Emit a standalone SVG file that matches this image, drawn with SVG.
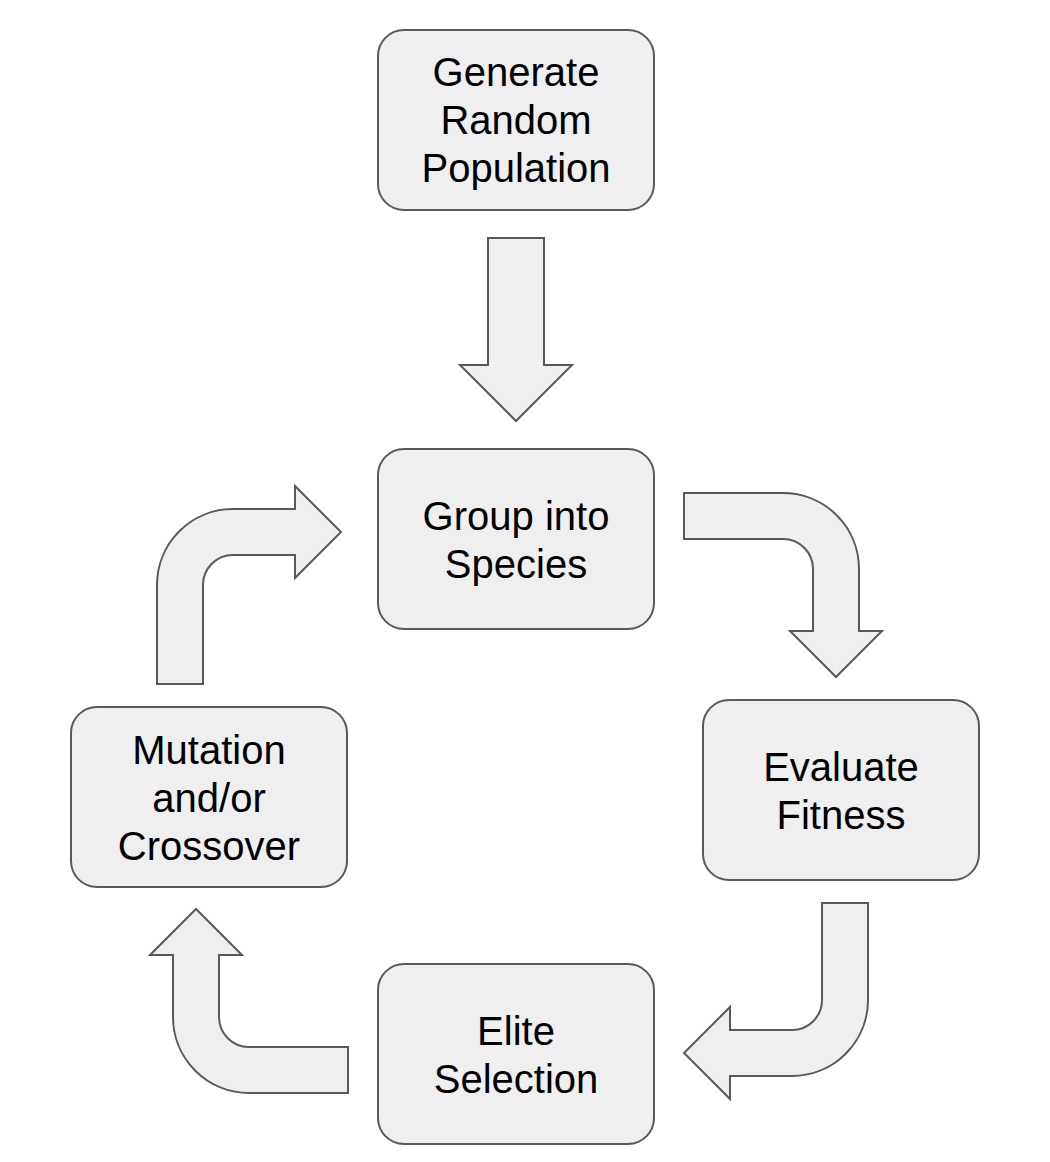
<svg xmlns="http://www.w3.org/2000/svg" width="1050" height="1162" viewBox="0 0 1050 1162">
<style>
.box{fill:#efefef;stroke:#595959;stroke-width:2}
.arr{fill:#efefef;stroke:#595959;stroke-width:2;stroke-linejoin:miter}
.t{font-family:"Liberation Sans",Arial,sans-serif;font-size:40px;fill:#000;text-anchor:middle}
</style>
<rect width="1050" height="1162" fill="#fff"/>
<g id="generate">
<rect class="box" x="378" y="30" width="276" height="180" rx="26"/>
<text class="t" x="516" y="86">Generate</text>
<text class="t" x="516" y="134">Random</text>
<text class="t" x="516" y="182">Population</text>
</g>
<g id="group">
<rect class="box" x="378" y="449" width="276" height="180" rx="26"/>
<text class="t" x="516" y="530">Group into</text>
<text class="t" x="516" y="578">Species</text>
</g>
<g id="evaluate">
<rect class="box" x="703" y="700" width="276" height="180" rx="26"/>
<text class="t" x="841" y="781">Evaluate</text>
<text class="t" x="841" y="829">Fitness</text>
</g>
<g id="elite">
<rect class="box" x="378" y="964" width="276" height="180" rx="26"/>
<text class="t" x="516" y="1045">Elite</text>
<text class="t" x="516" y="1093">Selection</text>
</g>
<g id="mutation">
<rect class="box" x="71" y="707" width="276" height="180" rx="26"/>
<text class="t" x="209" y="764">Mutation</text>
<text class="t" x="209" y="812">and/or</text>
<text class="t" x="209" y="860">Crossover</text>
</g>
<g id="connectors">
<path class="arr" d="M488,238 H544 V365 H572 L516,421 L460,365 H488 Z"/>
<path class="arr" d="M684,493 H783 A76,76 0 0 1 859,569 V631 H882 L836,677 L790,631 H813 V569 A30,30 0 0 0 783,539 H684 Z"/>
<path class="arr" d="M822,903 H868 V1000 A76,76 0 0 1 792,1076 H730 V1099 L684,1053 L730,1007 V1030 H792 A30,30 0 0 0 822,1000 Z"/>
<path class="arr" d="M348,1047 H249 A30,30 0 0 1 219,1017 V955 H242 L196,909 L150,955 H173 V1017 A76,76 0 0 0 249,1093 H348 Z"/>
<path class="arr" d="M157,684 V585 A76,76 0 0 1 233,509 H295 V486 L341,532 L295,578 V555 H233 A30,30 0 0 0 203,585 V684 Z"/>
</g>
</svg>
